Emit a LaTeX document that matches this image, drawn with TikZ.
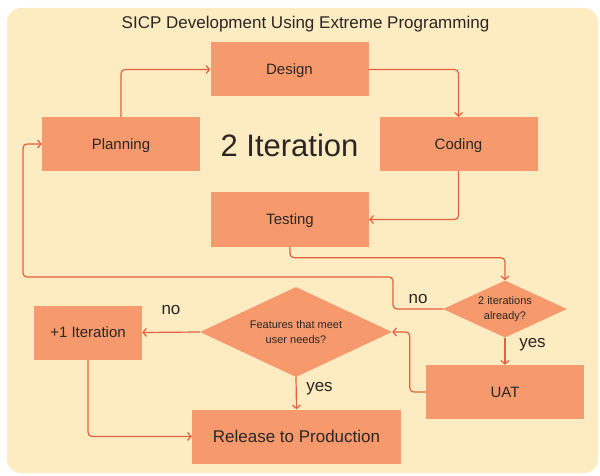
\documentclass[tikz,border=0pt]{standalone}
\usepackage{fontspec}
\setmainfont{Liberation Sans}
\usetikzlibrary{positioning,arrows.meta,shapes.geometric}
\definecolor{Cream}{HTML}{FDEBC1}
\definecolor{Salmon}{HTML}{F69A6E}
\definecolor{Rust}{HTML}{E5603F}
\definecolor{Ink}{HTML}{2B2623}

\begin{document}
\begin{tikzpicture}[
  x=1pt, y=-1pt,
  box/.style = {fill=Salmon, minimum width=158pt, minimum height=54pt,
                inner sep=0pt, text height=10.8pt, text depth=0pt,
                text=Ink, font=\fontsize{15}{18}\selectfont},
  ask/.style = {diamond, fill=Salmon, inner sep=0pt, align=center,
                text=Ink, font=\fontsize{11}{15}\selectfont},
  arr/.style = {-{Straight Barb[length=3.5pt,width=8pt]}, line width=1.2pt,
                Rust, rounded corners=4pt},
  lbl/.style = {text=Ink, font=\fontsize{17}{20}\selectfont}
]
  \useasboundingbox (0,0) rectangle (600,476);
  \fill[Cream, rounded corners=14pt] (7,8) rectangle (598,473);

  \node[text=Ink, font=\fontsize{17}{20}\selectfont] (title) at (305.5,24) {SICP Development Using Extreme Programming};
  \node[text=Ink, font=\fontsize{31}{36}\selectfont] (iter) at (289.5,145.5) {2 Iteration};

  \node[box] (design) at (289.5,69.5) {Design};
  \node[box] (plan) at (121,144) {Planning};
  \node[box] (coding) at (458.5,144) {Coding};
  \node[box] (test) at (290,219.5) {Testing};
  \node[ask, aspect=2.2, minimum width=124pt, minimum height=57pt] (iter2) at (505,309) {2 iterations\\already?};
  \node[box] (uat) at (505,392) {UAT};
  \node[ask, aspect=2.1, minimum width=192pt, minimum height=90pt] (feat) at (296,332) {Features that meet\\user needs?};
  \node[box, minimum width=108pt] (plus) at (88,332.5) {+1 Iteration};
  \node[box, minimum width=209pt, text height=12.2pt, font=\fontsize{17}{20}\selectfont] (release) at (296.5,436.5) {Release to Production};

  \coordinate (backA) at (393,277);
  \coordinate (backB) at (23,277);

  \draw[arr] (plan.north) |- (design.west);
  \draw[arr] (design.east) -| (coding.north);
  \draw[arr] (coding.south) |- (test.east);
  \draw[arr] (test.south) -- ++(0,11) -| (iter2.north);
  \draw[arr] (iter2.west) -| (backA) -- (backB) |- (plan.west);
  \draw[arr] (iter2.south) -- (uat.north);
  \draw[arr] (uat.west) -- ++(-16,0) |- (feat.east);
  \draw[arr] (feat.west) -- (plus.east);
  \draw[arr] (feat.south) -- (release.north);
  \draw[arr] (plus.south) |- (release.west);

  \node[lbl] (no1) at (418,299.5) {no};
  \node[lbl] (yes1) at (532.5,344.5) {yes};
  \node[lbl] (no2) at (171,310) {no};
  \node[lbl] (yes2) at (319.5,389) {yes};
\end{tikzpicture}
\end{document}
